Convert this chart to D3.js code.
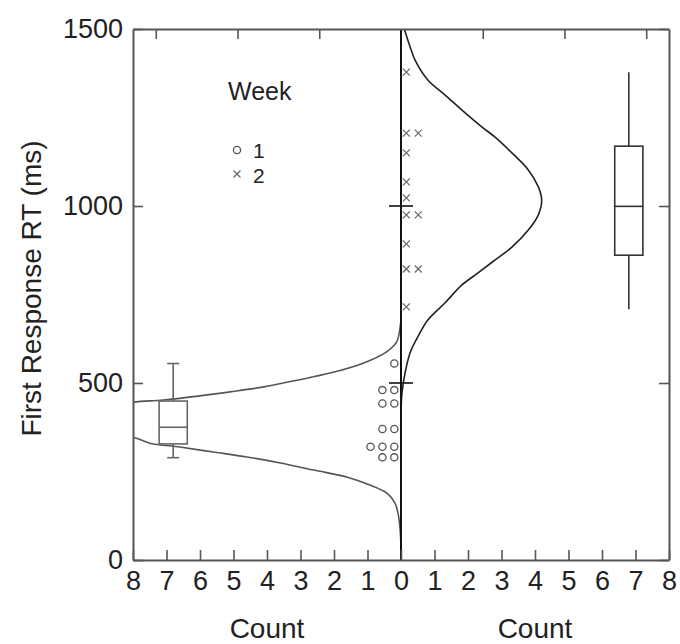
<!DOCTYPE html>
<html>
<head>
<meta charset="utf-8">
<script src="https://cdn.jsdelivr.net/npm/d3@7"></script>
<style>
  body { margin: 0; background: #fff; }
  svg text { font-family: "Liberation Sans", Arial, sans-serif; fill: #222; }
</style>
</head>
<body>
<div id="chart"></div>
<script>
// 数据：两周的首次反应时 (ms)
const week1RT = [555, 480, 480, 442, 442, 370, 370, 320, 320, 320, 290, 290];
const week2RT = [1378, 1206, 1206, 1150, 1068, 1023, 975, 975, 893, 822, 822, 715];

// 箱线图 [min, q1, median, q3, max]
const week1Box = [289, 328, 375, 449, 555];
const week2Box = [708, 861, 999, 1169, 1378];
const boxCount = 6.8; // 箱线图所在的 Count 位置

// 拟合曲线 [RT, count]
const week1Curve = [
  [680, 0], [655, 0.03], [616, 0.13], [588, 0.43], [556, 1.13], [528, 2.12],
  [508, 3.1], [489, 4.1], [475, 5.1], [463, 6.06], [452, 7.1], [446, 8.0],
  [425, 9.6], [395, 10.5], [365, 9.6], [347, 8.0], [330, 7.5], [319, 6.6],
  [305, 5.6], [291, 4.6], [274, 3.6], [254, 2.6], [234, 1.6], [212, 0.93],
  [189, 0.42], [161, 0.18], [133, 0.09], [90, 0.03], [40, 0]
];
const week2Curve = [
  [1500, 0.1], [1450, 0.27], [1412, 0.42], [1356, 0.8], [1314, 1.31], [1271, 1.82],
  [1223, 2.42], [1195, 2.8], [1150, 3.31], [1102, 3.8], [1054, 4.1], [1017, 4.2],
  [975, 4.1], [932, 3.8], [884, 3.31], [847, 2.8], [811, 2.3], [777, 1.82],
  [726, 1.31], [678, 0.8], [630, 0.5], [585, 0.27], [528, 0.12], [472, 0.03], [420, 0]
];

// 坐标刻度
const countTicks = d3.range(-8, 9);
const rtTicks = [0, 500, 1000, 1500];
const topTicks = [-7.32, -4.88, -2.44, 2.44, 4.88, 7.32];
const centerTicks = [500, 1000];

// 图例
const legendTitle = 'Week';
const legendLabels = ['1', '2'];

const W = 680, H = 644;
const margin = { left: 133, right: 11, top: 29, bottom: 84 };

const svg = d3.select('#chart').append('svg').attr('width', W).attr('height', H);

const x = d3.scaleLinear().domain([-8, 8]).range([margin.left, W - margin.right]);
const y = d3.scaleLinear().domain([0, 1500]).range([H - margin.bottom, margin.top]);

const axisColor = '#555';
const tickFont = 27;
const titleFont = 28;

// 裁剪区域
svg.append('clipPath').attr('id', 'plot-clip')
  .append('rect')
  .attr('x', x(-8)).attr('y', y(1500))
  .attr('width', x(8) - x(-8)).attr('height', y(0) - y(1500));

// 曲线
const line = d3.line().curve(d3.curveCatmullRom);
const plot = svg.append('g').attr('clip-path', 'url(#plot-clip)');
plot.append('path')
  .attr('d', line(week1Curve.map(d => [x(-d[1]), y(d[0])])))
  .attr('fill', 'none').attr('stroke', '#555').attr('stroke-width', 1.6);
plot.append('path')
  .attr('d', line(week2Curve.map(d => [x(d[1]), y(d[0])])))
  .attr('fill', 'none').attr('stroke', '#222').attr('stroke-width', 1.6);

// 箱线图
const boxHalf = 0.42;
const drawBox = (stats, side, color, caps) => {
  const cx = x(side * boxCount);
  const g = svg.append('g').attr('stroke', color).attr('stroke-width', 1.6).attr('fill', 'none');
  const x0 = x(side * (boxCount - boxHalf)), x1 = x(side * (boxCount + boxHalf));
  const left = Math.min(x0, x1), right = Math.max(x0, x1);
  g.append('line').attr('x1', cx).attr('x2', cx).attr('y1', y(stats[4])).attr('y2', y(stats[3]));
  g.append('line').attr('x1', cx).attr('x2', cx).attr('y1', y(stats[1])).attr('y2', y(stats[0]));
  g.append('rect').attr('x', left).attr('y', y(stats[3]))
    .attr('width', right - left).attr('height', y(stats[1]) - y(stats[3]));
  g.append('line').attr('x1', left).attr('x2', right).attr('y1', y(stats[2])).attr('y2', y(stats[2]));
  if (caps) {
    [stats[0], stats[4]].forEach(v => {
      g.append('line').attr('x1', cx - 6).attr('x2', cx + 6).attr('y1', y(v)).attr('y2', y(v));
    });
  }
};
drawBox(week1Box, -1, '#666', true);
drawBox(week2Box, 1, '#333', false);

// 点图：同值堆叠
const stackIndex = (arr) => {
  const seen = {};
  return arr.map(v => { seen[v] = (seen[v] || 0) + 1; return { rt: v, i: seen[v] - 1 }; });
};
const dotStart = 0.2, dotStep = 0.355;

svg.append('g').selectAll('circle')
  .data(stackIndex(week1RT)).enter()
  .append('circle')
  .attr('cx', d => x(-(dotStart + d.i * dotStep)))
  .attr('cy', d => y(d.rt))
  .attr('r', 3.6)
  .attr('fill', 'none').attr('stroke', '#555').attr('stroke-width', 1.3);

const cross = (g, cx, cy, s) => {
  g.append('path')
    .attr('d', `M${cx - s},${cy - s}L${cx + s},${cy + s}M${cx - s},${cy + s}L${cx + s},${cy - s}`)
    .attr('stroke', '#666').attr('stroke-width', 1.2).attr('fill', 'none');
};
const crossG = svg.append('g');
stackIndex(week2RT).forEach(d => cross(crossG, x(dotStart - 0.04 + d.i * dotStep), y(d.rt), 3.5));

// 中心线
svg.append('line')
  .attr('x1', x(0)).attr('x2', x(0)).attr('y1', y(0)).attr('y2', y(1500))
  .attr('stroke', '#111').attr('stroke-width', 2);
svg.append('g').selectAll('line')
  .data(centerTicks).enter()
  .append('line')
  .attr('x1', x(0) - 12).attr('x2', x(0) + 12)
  .attr('y1', d => y(d)).attr('y2', d => y(d))
  .attr('stroke', '#111').attr('stroke-width', 1.6);

// 坐标轴
const styleAxis = (g) => {
  g.select('.domain').attr('stroke', axisColor).attr('stroke-width', 2);
  g.selectAll('.tick line').attr('stroke', axisColor).attr('stroke-width', 1.6);
  g.selectAll('.tick text').style('font-size', tickFont + 'px').attr('fill', '#222');
};

svg.append('g').attr('transform', `translate(0,${y(0)})`)
  .call(d3.axisBottom(x).tickValues(countTicks).tickFormat(d => Math.abs(d))
    .tickSizeInner(-10).tickSizeOuter(0).tickPadding(11))
  .call(styleAxis);

svg.append('g').attr('transform', `translate(0,${y(1500)})`)
  .call(d3.axisTop(x).tickValues(topTicks).tickFormat('')
    .tickSizeInner(-10).tickSizeOuter(0))
  .call(styleAxis);

svg.append('g').attr('transform', `translate(${x(-8)},0)`)
  .call(d3.axisLeft(y).tickValues(rtTicks).tickFormat(d3.format('d'))
    .tickSizeInner(-10).tickSizeOuter(0).tickPadding(10))
  .call(styleAxis);

svg.append('g').attr('transform', `translate(${x(8)},0)`)
  .call(d3.axisRight(y).tickValues(rtTicks).tickFormat('')
    .tickSizeInner(-10).tickSizeOuter(0))
  .call(styleAxis);

// 坐标轴标题
svg.append('text')
  .attr('x', (x(-8) + x(0)) / 2).attr('y', H - 6)
  .attr('text-anchor', 'middle').style('font-size', titleFont + 'px')
  .text('Count');
svg.append('text')
  .attr('x', (x(0) + x(8)) / 2).attr('y', H - 6)
  .attr('text-anchor', 'middle').style('font-size', titleFont + 'px')
  .text('Count');
svg.append('text')
  .attr('transform', `translate(41,${(y(0) + y(1500)) / 2 - 6}) rotate(-90)`)
  .attr('text-anchor', 'middle').style('font-size', titleFont + 'px')
  .text('First Response RT (ms)');

// 图例
const legend = svg.append('g').attr('transform', 'translate(228,100)');
legend.append('text').attr('x', 0).attr('y', 0).style('font-size', '25px').text(legendTitle);
legend.append('circle').attr('cx', 9).attr('cy', 50).attr('r', 3.6)
  .attr('fill', 'none').attr('stroke', '#555').attr('stroke-width', 1.3);
cross(legend, 9, 74, 3.5);
legend.selectAll('text.item')
  .data(legendLabels).enter()
  .append('text').attr('class', 'item')
  .attr('x', 25).attr('y', (d, i) => 58 + i * 25)
  .style('font-size', '21px')
  .text(d => d);
</script>
</body>
</html>
